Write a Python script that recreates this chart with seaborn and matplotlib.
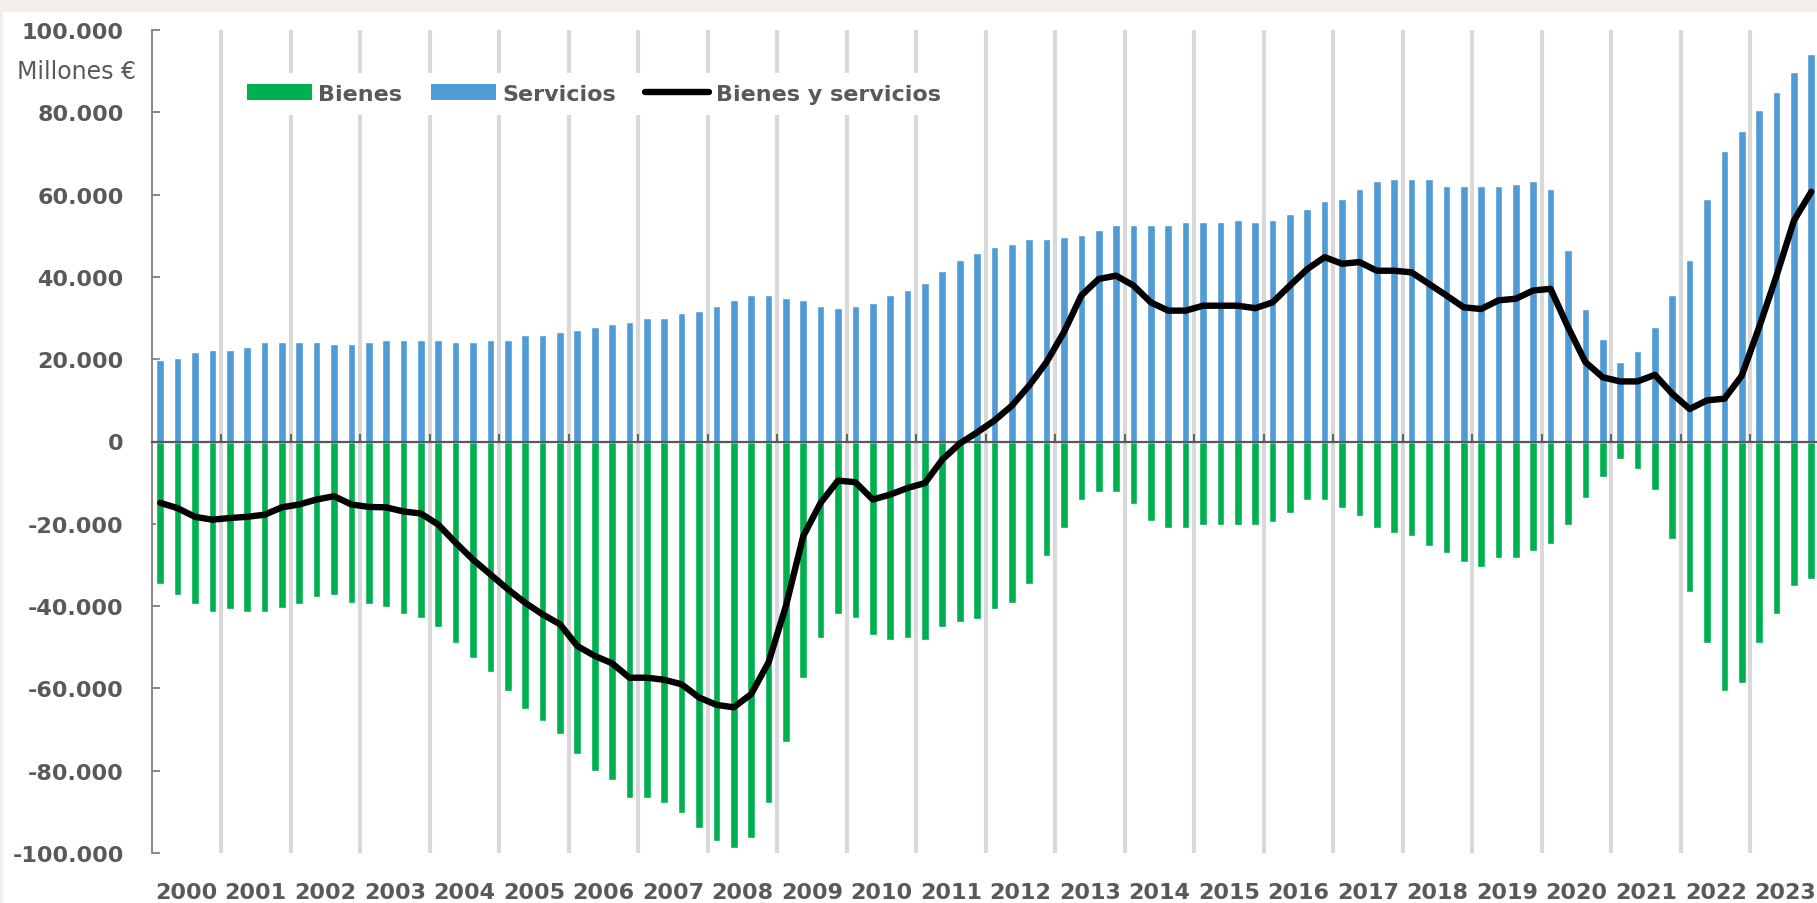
import numpy as np
import pandas as pd
import matplotlib
matplotlib.use("Agg")
import matplotlib.pyplot as plt
import seaborn as sns
from matplotlib.patches import Patch, Rectangle
from matplotlib.lines import Line2D
from matplotlib.ticker import FixedLocator, NullFormatter

# ---------------- data (miles de millones -> se escala a millones €) ----------------
years = list(range(2000, 2024))
quarters = [f"{y}T{q}" for y in years for q in range(1, 5)]

servicios = [
    19.8, 20.3, 21.7, 22.3,   # 2000
    22.3, 22.9, 24.2, 24.2,   # 2001
    24.2, 24.2, 23.6, 23.6,   # 2002
    24.2, 24.7, 24.7, 24.7,   # 2003
    24.7, 24.2, 24.2, 24.7,   # 2004
    24.7, 25.9, 25.9, 26.6,   # 2005
    27.1, 27.8, 28.6, 29.1,   # 2006
    30.0, 30.0, 31.2, 31.6,   # 2007
    33.0, 34.3, 35.5, 35.5,   # 2008
    34.8, 34.3, 33.0, 32.4,   # 2009
    33.0, 33.6, 35.5, 36.7,   # 2010
    38.5, 41.5, 44.1, 45.8,   # 2011
    47.2, 47.9, 49.1, 49.1,   # 2012
    49.8, 50.3, 51.5, 52.7,   # 2013
    52.7, 52.7, 52.7, 53.3,   # 2014
    53.3, 53.3, 53.9, 53.3,   # 2015
    53.9, 55.3, 56.5, 58.4,   # 2016
    58.9, 61.4, 63.2, 63.8,   # 2017
    63.8, 63.8, 62.0, 62.0,   # 2018
    62.0, 62.0, 62.6, 63.2,   # 2019
    61.4, 46.6, 32.2, 24.8,   # 2020
    19.3, 21.9, 27.9, 35.5,   # 2021
    44.0, 58.9, 70.7, 75.5,   # 2022
    80.6, 85.0, 89.9, 94.2,   # 2023
]

bienes = [
    -34.7, -37.2, -39.6, -41.4,   # 2000
    -40.8, -41.4, -41.4, -40.4,   # 2001
    -39.4, -37.7, -37.2, -39.2,   # 2002
    -39.4, -40.2, -42.0, -42.8,   # 2003
    -45.1, -48.9, -52.5, -56.1,   # 2004
    -60.6, -64.9, -68.0, -71.2,   # 2005
    -75.9, -80.0, -82.2, -86.6,   # 2006
    -86.6, -87.8, -90.2, -93.9,   # 2007
    -97.1, -98.8, -96.4, -87.8,   # 2008
    -73.1, -57.5, -47.7, -42.0,   # 2009
    -42.8, -47.1, -48.2, -47.7,   # 2010
    -48.2, -45.1, -43.9, -43.2,   # 2011
    -40.8, -39.2, -34.7, -27.9,   # 2012
    -21.0, -14.1, -12.3, -12.3,   # 2013
    -15.3, -19.2, -21.0, -21.0,   # 2014
    -20.4, -20.4, -20.4, -20.4,   # 2015
    -19.6, -17.4, -14.3, -14.3,   # 2016
    -16.2, -18.0, -21.0, -22.2,   # 2017
    -23.0, -25.3, -27.2, -29.2,   # 2018
    -30.5, -28.4, -28.4, -26.5,   # 2019
    -24.8, -20.4, -13.7, -8.6,    # 2020
    -4.3, -6.7, -11.7, -23.6,     # 2021
    -36.5, -48.9, -60.6, -58.8,   # 2022
    -48.9, -42.0, -35.1, -33.4,   # 2023
]

bienes_y_servicios = [
    -14.9, -16.2, -18.3, -19.0,   # 2000
    -18.6, -18.3, -17.8, -16.0,   # 2001
    -15.3, -14.1, -13.3, -15.3,   # 2002
    -15.9, -16.0, -17.0, -17.5,   # 2003
    -20.2, -24.6, -28.7, -32.3,   # 2004
    -35.9, -39.2, -42.0, -44.4,   # 2005
    -49.7, -52.1, -53.9, -57.4,   # 2006
    -57.4, -57.9, -59.0, -62.2,   # 2007
    -64.0, -64.6, -61.4, -53.7,   # 2008
    -40.0, -23.0, -14.9, -9.5,    # 2009
    -9.9, -14.1, -12.9, -11.3,    # 2010
    -10.1, -4.4, -0.5, 2.2,       # 2011
    5.1, 8.7, 13.6, 19.3,         # 2012
    26.6, 35.5, 39.5, 40.3,       # 2013
    37.9, 33.8, 31.8, 31.8,       # 2014
    33.0, 33.0, 33.0, 32.4,       # 2015
    33.8, 37.9, 41.9, 44.8,       # 2016
    43.2, 43.6, 41.5, 41.5,       # 2017
    41.1, 38.3, 35.5, 32.6,       # 2018
    32.2, 34.3, 34.7, 36.7,       # 2019
    37.1, 27.8, 19.3, 15.6,       # 2020
    14.6, 14.6, 16.2, 11.6,       # 2021
    7.9, 10.0, 10.4, 16.0,        # 2022
    27.8, 40.3, 53.7, 60.7,       # 2023
]

series_names = ["Bienes", "Servicios", "Bienes y servicios"]
y_unit_label = "Millones €"

# ---------------- style ----------------
GREEN = "#00b050"
BLUE = "#4f9bd5"
TXT = "#595959"
GRID = "#d9d9d9"

sns.set_theme(style="white")
plt.rcParams["font.family"] = ["DejaVu Sans"]

W, H = 1817, 904
fig = plt.figure(figsize=(W / 100, H / 100), dpi=100, facecolor="#f4eeea")
fig.patches.append(Rectangle((3 / W, 0), 1 - 3 / W, 1 - 13 / H, transform=fig.transFigure,
                             facecolor="white", edgecolor="none", zorder=-10))

left, right, top, bottom = 151.5, 1820.0, 31, 854
ax = fig.add_axes([left / W, 1 - bottom / H, (right - left) / W, (bottom - top) / H])
ax.set_facecolor("white")

df = pd.DataFrame({
    "trimestre": quarters * 2,
    "valor": np.array(servicios + bienes) * 1000,
    "serie": ["Servicios"] * len(quarters) + ["Bienes"] * len(quarters),
})

sns.barplot(data=df, x="trimestre", y="valor", hue="serie",
            hue_order=["Bienes", "Servicios"],
            palette={"Bienes": GREEN, "Servicios": BLUE},
            dodge=False, width=0.44, errorbar=None, saturation=1,
            legend=False, ax=ax, zorder=2)

sns.lineplot(x=np.arange(len(quarters)), y=np.array(bienes_y_servicios) * 1000,
             color="black", lw=4.6, ax=ax, zorder=4, legend=False)

ax.set_xlabel("")
ax.set_ylabel("")
ax.set_xlim(-0.5, len(quarters) - 0.5)
ax.set_ylim(-100000, 100000)

# year boundaries: gray separators + small ticks on the zero line
boundaries = np.arange(4, len(quarters), 4) - 0.5
ax.xaxis.set_major_locator(FixedLocator(boundaries))
ax.xaxis.set_major_formatter(NullFormatter())
ax.grid(False)
ax.grid(axis="x", which="major", color=GRID, lw=3)
ax.set_axisbelow(True)

for s in ["top", "right"]:
    ax.spines[s].set_visible(False)
ax.spines["bottom"].set_position(("data", 0))
ax.spines["bottom"].set_color(TXT)
ax.spines["bottom"].set_linewidth(1.6)
ax.spines["bottom"].set_zorder(3)
ax.spines["left"].set_color("#7f7f7f")
ax.spines["left"].set_linewidth(1.3)

ax.tick_params(axis="x", which="major", direction="in", length=6, width=1.3,
               color=TXT, labelbottom=False, bottom=True)

yt = np.arange(-100000, 100001, 20000)
ax.set_yticks(yt)
ax.set_yticklabels([f"{int(v):,}".replace(",", ".") for v in yt],
                   fontsize=16, fontweight="bold", color=TXT)
ax.tick_params(axis="y", direction="in", length=6, width=1.3, color="#7f7f7f", pad=20, left=True)

# year labels at the bottom
sec = ax.secondary_xaxis("bottom")
year_centers = np.arange(len(years)) * 4 + 1.5
sec.set_xticks(year_centers)
sec.set_xticklabels([str(y) for y in years], fontsize=16, fontweight="bold", color=TXT)
sec.tick_params(length=0, pad=21)
sec.spines["bottom"].set_visible(False)

# unit label
fig.text(17 / W, 1 - 72 / H, y_unit_label, fontsize=17, color=TXT, ha="left", va="center")

# legend
handles = [Patch(facecolor=GREEN, edgecolor="none"),
           Patch(facecolor=BLUE, edgecolor="none"),
           Line2D([], [], color="black", lw=4.6)]
fig.legend(handles, series_names, loc="center left",
           bbox_to_anchor=(236 / W, 1 - 95 / H), ncol=3, frameon=True,
           facecolor="white", edgecolor="none", framealpha=1,
           prop={"size": 16, "weight": "bold"}, labelcolor=TXT,
           handlelength=2.9, handletextpad=0.3, columnspacing=1.3,
           borderpad=0.5, borderaxespad=0)

fig.savefig("out.png", dpi=100, facecolor=fig.get_facecolor())
